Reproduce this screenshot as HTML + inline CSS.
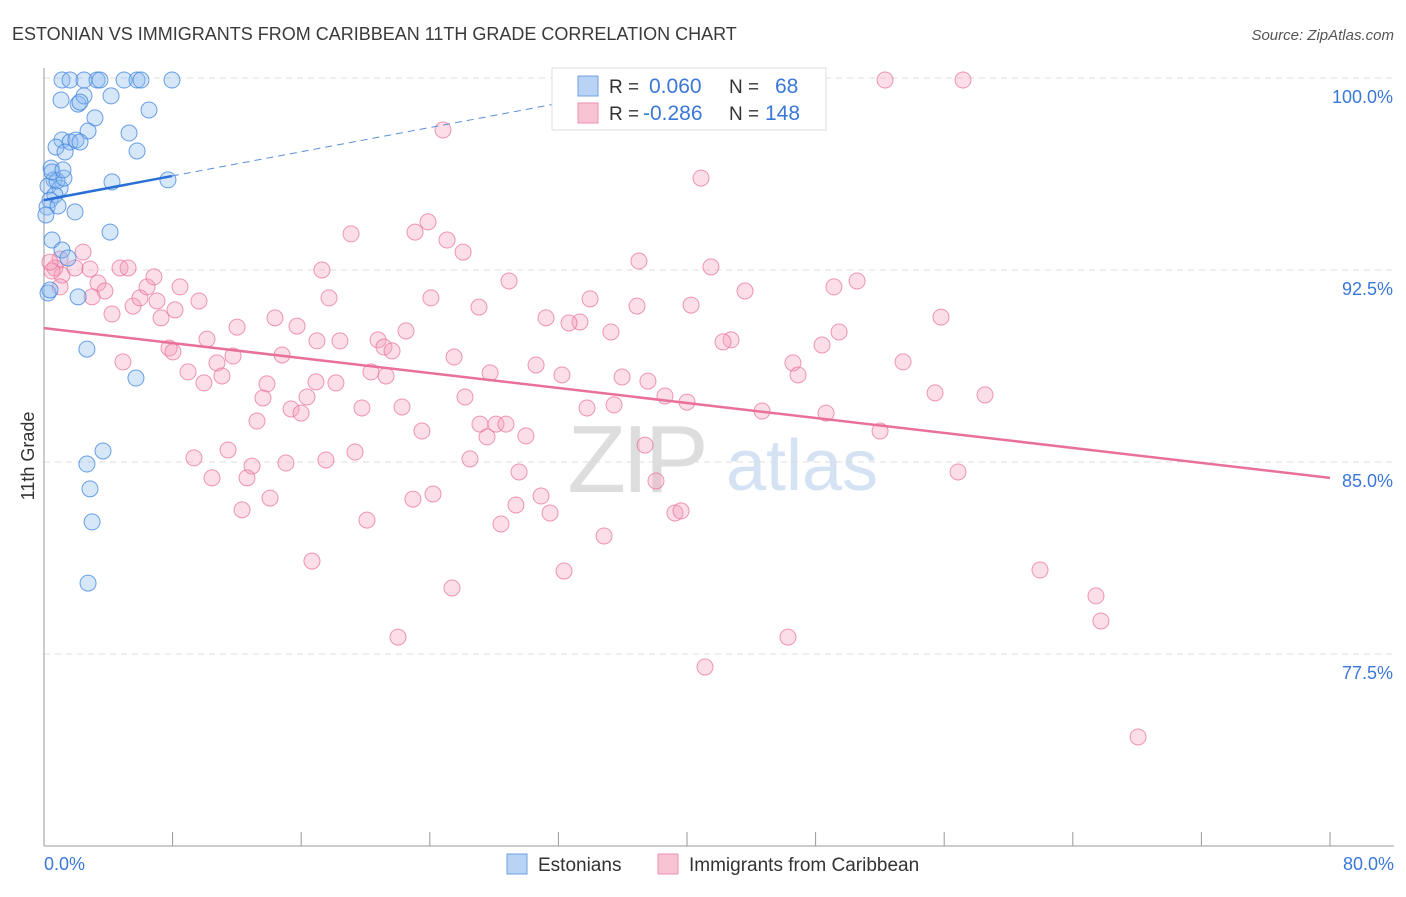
<!DOCTYPE html>
<html><head><meta charset="utf-8"><style>
body{margin:0;background:#fff;font-family:"Liberation Sans",sans-serif}
svg text{font-family:"Liberation Sans",sans-serif}
</style></head><body>
<svg id="chart" width="1406" height="892" viewBox="0 0 1406 892" xmlns="http://www.w3.org/2000/svg">
<text x="12" y="40" font-size="18" fill="#3a3a3a">ESTONIAN VS IMMIGRANTS FROM CARIBBEAN 11TH GRADE CORRELATION CHART</text>
<text x="1394" y="40" font-size="15" fill="#555" font-style="italic" text-anchor="end">Source: ZipAtlas.com</text>
<text transform="translate(34,456) rotate(-90)" font-size="18" fill="#333" text-anchor="middle">11th Grade</text>
<g><text x="636" y="492" font-size="96" fill="#ddd" font-family="Liberation Serif" text-anchor="middle" letter-spacing="-4">ZIP</text><text x="802" y="490" font-size="72" fill="#d4e2f4" text-anchor="middle">atlas</text></g>
<g id="grid"></g><g id="axes"></g><g id="pink"></g><g id="blue"></g><g id="trends"></g>
<g>
<rect x="552" y="68" width="274" height="62" fill="#fff" stroke="#ddd"/>
<rect x="578" y="76" width="20" height="20" fill="#b9d3f4" stroke="#6fa0e0"/>
<rect x="578" y="103" width="20" height="20" fill="#f8c4d4" stroke="#ec8fae"/>
<text x="609" y="93" font-size="19" fill="#333">R = </text><text x="649" y="93" font-size="21" fill="#3a78d8">0.060</text>
<text x="729" y="93" font-size="19" fill="#333">N = </text><text x="775" y="93" font-size="21" fill="#3a78d8">68</text>
<text x="609" y="120" font-size="19" fill="#333">R = </text><text x="643" y="120" font-size="21" fill="#3a78d8">-0.286</text>
<text x="729" y="120" font-size="19" fill="#333">N = </text><text x="765" y="120" font-size="21" fill="#3a78d8">148</text>
</g>
<g>
<rect x="507" y="854" width="20" height="20" fill="#b9d3f4" stroke="#6fa0e0"/>
<text x="538" y="871" font-size="19" fill="#333">Estonians</text>
<rect x="658" y="854" width="20" height="20" fill="#f8c4d4" stroke="#ec8fae"/>
<text x="689" y="871" font-size="19" fill="#333">Immigrants from Caribbean</text>
</g>
</svg>
<script>
const xTickLabels=["0.0%","80.0%"];
const yTicks=[100,92.5,85,77.5];
const yTickLabels=["100.0%","92.5%","85.0%","77.5%"];
const blueX=[1.12,1.62,2.49,3.30,3.48,4.98,5.79,6.03,7.96,1.06,2.12,2.49,2.24,4.17,6.53,3.17,2.74,5.29,1.12,0.75,1.62,1.99,2.24,1.31,5.79,0.44,0.62,0.25,1.00,0.68,0.37,0.19,0.87,1.93,4.23,7.71,0.50,4.11,1.12,1.49,2.12,0.25,0.37,2.67,5.72,3.67,2.67,2.86,2.99,2.74,0.81,1.24,0.12,0.50,1.18];
const blueY=[99.92,99.92,99.92,99.92,99.92,99.92,99.92,99.92,99.92,99.14,98.98,99.30,99.06,99.30,98.75,98.44,97.93,97.85,97.58,97.30,97.50,97.58,97.50,97.11,97.15,96.48,96.02,95.78,95.70,95.43,95.23,94.96,95.00,94.77,95.94,96.02,93.67,93.98,93.28,92.97,91.45,91.60,91.72,89.41,88.28,85.43,84.92,83.95,82.66,80.27,95.98,96.09,94.65,96.33,96.41];
const pinkX=[52.32,57.17,24.82,40.87,23.89,23.08,19.10,25.07,26.07,37.01,41.49,17.29,28.93,50.58,49.14,43.61,33.97,36.89,40.25,27.06,24.07,17.73,55.80,31.23,33.34,32.66,35.27,22.52,49.46,15.74,14.37,12.01,18.41,20.78,21.15,21.65,42.74,42.24,48.40,16.98,25.51,30.61,32.22,27.75,20.34,21.28,35.96,37.57,46.59,46.91,53.44,14.81,11.76,10.76,10.14,7.78,8.02,8.96,9.95,11.07,13.87,16.92,18.16,13.62,16.36,19.78,22.27,26.19,33.78,35.46,38.63,40.00,44.67,48.65,55.43,58.54,15.37,15.99,13.25,23.51,27.12,28.12,28.74,27.56,29.98,52.01,37.39,9.33,11.45,12.94,15.05,17.54,19.35,26.50,29.55,10.45,12.63,38.07,56.86,12.32,14.06,22.95,24.20,30.92,29.36,31.48,20.09,28.43,39.25,39.63,34.84,16.67,32.35,25.38,61.96,65.44,65.75,22.02,46.28,41.12,68.06,1.00,0.68,1.12,2.43,1.93,2.86,3.36,3.79,4.23,4.73,5.23,5.54,5.97,6.41,6.84,7.03,7.28,8.46,9.64,8.15,4.91,0.50,0.37,1.00,2.99];
const pinkY=[99.92,99.92,97.97,96.09,94.38,93.98,93.91,93.67,93.20,92.85,92.62,92.50,92.07,92.07,91.84,91.68,91.37,91.09,91.13,91.05,91.41,91.41,90.66,90.63,90.47,90.43,90.08,90.12,90.08,90.31,90.63,90.27,89.73,89.77,89.49,89.34,89.77,89.69,89.57,89.73,89.10,88.79,88.40,88.48,88.52,88.36,88.32,88.16,88.87,88.40,88.91,89.18,89.14,88.87,89.80,89.45,89.30,88.52,88.09,88.36,88.05,88.13,88.09,87.50,87.54,87.11,87.15,87.54,87.11,87.23,87.58,87.34,86.99,86.91,87.70,87.62,87.07,86.91,86.60,86.21,86.48,86.48,86.48,85.98,86.02,86.21,85.66,85.16,85.47,84.84,84.96,85.08,85.39,85.12,84.61,84.38,84.38,84.26,84.61,83.13,83.59,83.55,83.75,83.67,83.32,83.01,82.73,82.58,83.01,83.09,82.11,81.13,80.74,80.08,80.78,79.77,78.79,78.16,78.16,76.99,74.26,92.93,92.58,92.30,93.20,92.58,92.54,91.99,91.68,90.78,92.58,92.58,91.09,91.41,91.84,92.23,91.29,90.63,91.84,91.29,90.94,88.91,92.46,92.81,91.84,91.45];
const blueTrend=[95.23,96.17];   // y at x=0 and x=7.96
const blueTrendX=[0,7.96,33];
const pinkTrend=[90.23,84.38];   // y at x=0 and x=80
const NS="http://www.w3.org/2000/svg";
const X0=44,X1=1330,Y0=78,Y1=846;
function sx(v){return X0+(v/80)*(X1-X0);}
function sy(v){return Y0+(100-v)/30*(Y1-Y0);}
function mk(tag,attrs,parent){const e=document.createElementNS(NS,tag);for(const k in attrs)e.setAttribute(k,attrs[k]);parent.appendChild(e);return e;}
const grid=document.getElementById('grid'),axes=document.getElementById('axes');
yTicks.forEach((t,i)=>{
  const l=mk('line',{x1:X0,x2:1394,y1:sy(t),y2:sy(t),stroke:'#ddd','stroke-dasharray':'6,5'},grid);
  
  
  const tx=mk('text',{x:1393,y:sy(t)+25,'font-size':18,fill:'#3a78d8','text-anchor':'end'},axes);
  tx.textContent=yTickLabels[i];
  
  
});
const ya=mk('line',{x1:X0,x2:X0,y1:68,y2:846,stroke:'#999'},axes);


const xa=mk('line',{x1:X0,x2:1394,y1:846,y2:846,stroke:'#999'},axes);


for(let i=0;i<=10;i++){
  const t=mk('line',{x1:sx(i*8),x2:sx(i*8),y1:832,y2:846,stroke:'#999'},axes);
  
  
}
[[0,'start',X0],[80,'end',1394]].forEach((a,i)=>{
  const tx=mk('text',{x:a[2],y:870,'font-size':18,fill:'#3a78d8','text-anchor':a[1]},axes);
  tx.textContent=xTickLabels[i];
  
  
});
const pg=document.getElementById('pink');
pinkX.forEach((v,i)=>{
  const c=mk('circle',{cx:sx(v),cy:sy(pinkY[i]),r:8,fill:'rgba(244,160,188,0.35)',stroke:'rgba(232,110,150,0.7)','stroke-width':1},pg);
  
  
});
const bg=document.getElementById('blue');
blueX.forEach((v,i)=>{
  const c=mk('circle',{cx:sx(v),cy:sy(blueY[i]),r:8,fill:'rgba(140,185,240,0.35)',stroke:'rgba(60,130,220,0.75)','stroke-width':1},bg);
  
  
});
const tg=document.getElementById('trends');
const bs=(blueTrend[1]-blueTrend[0])/blueTrendX[1];
const bt=mk('line',{x1:sx(0),y1:sy(blueTrend[0]),x2:sx(blueTrendX[1]),y2:sy(blueTrend[1]),stroke:'#2a6fd6','stroke-width':2.5},tg);


const bd=mk('line',{x1:sx(blueTrendX[1]),y1:sy(blueTrend[1]),x2:sx(blueTrendX[2]),y2:sy(blueTrend[0]+bs*blueTrendX[2]),stroke:'#5a8fd8','stroke-width':1,'stroke-dasharray':'7,5'},tg);


const pt=mk('line',{x1:sx(0),y1:sy(pinkTrend[0]),x2:sx(80),y2:sy(pinkTrend[1]),stroke:'#e8709a','stroke-width':2.5},tg);


</script>
</body></html>
